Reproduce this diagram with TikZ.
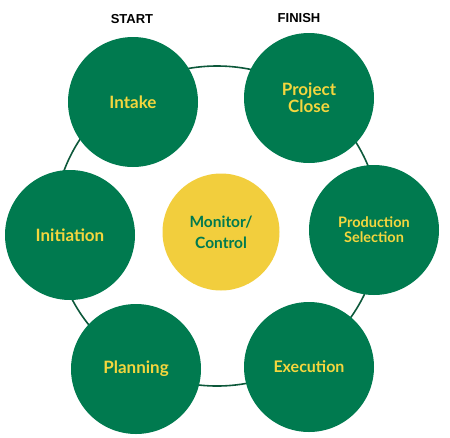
\documentclass[tikz,border=0pt]{standalone}
\usepackage{fontspec}
\setmainfont{Lato}
\newfontfamily\tagfont{Liberation Sans}

\definecolor{phasegreen}{RGB}{0,122,79}
\definecolor{ringgreen}{RGB}{12,88,58}
\definecolor{phaseyellow}{RGB}{244,214,62}
\definecolor{hubyellow}{RGB}{242,206,61}

\tikzset{
    phase/.style={circle, fill=phasegreen, minimum size=130pt, inner sep=0pt,
        text=phaseyellow, align=center, font=\bfseries\fontsize{17}{17}\selectfont},
    hub/.style={circle, fill=hubyellow, minimum size=117pt, inner sep=0pt,
        text=phasegreen, align=center, font=\bfseries\fontsize{15.5}{21}\selectfont},
    tag/.style={font=\tagfont\bfseries\fontsize{13}{15}\selectfont},
}

\begin{document}
\begin{tikzpicture}[x=1pt, y=-1pt]

    \useasboundingbox (0, 0) rectangle (450, 437);

    \coordinate (ringc) at (217, 226);
    \draw[ringgreen, line width=1.6pt] (ringc) ellipse [x radius=163pt, y radius=160pt];

    \node[phase] (intake) at (133, 102) {Intake};
    \node[phase] (close) at (309, 98) {Project\\Close};
    \node[phase, font=\bfseries\fontsize{14.5}{15}\selectfont] (selection) at (374, 230) {Production\\Selection};
    \node[phase] (initiation) at (70, 235) {Initiation};
    \node[phase] (planning) at (136, 369) {Planning};
    \node[phase, font=\bfseries\fontsize{16}{16}\selectfont] (execution) at (309, 367) {Execution};

    \node[hub] (monitor) at (221, 232) {Monitor/\\Control};

    \node[tag] (start) at (132, 19) {START};
    \node[tag] (finish) at (299, 18) {FINISH};

\end{tikzpicture}
\end{document}
